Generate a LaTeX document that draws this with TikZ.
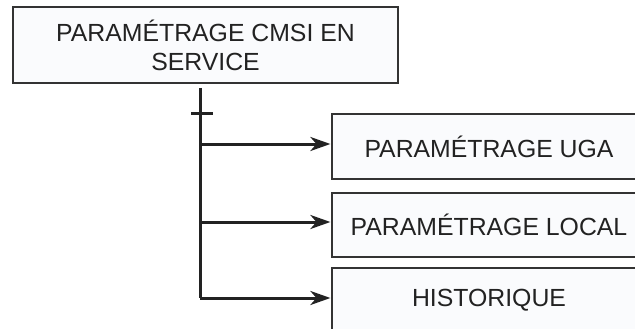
\documentclass[tikz,border=0pt]{standalone}
\usepackage{fontspec}
\setmainfont{Liberation Sans}
\usetikzlibrary{arrows.meta}
\definecolor{boxfill}{HTML}{FAFBFD}
\definecolor{edge}{HTML}{333333}
\definecolor{ink}{HTML}{222222}
\begin{document}
\begin{tikzpicture}[x=1pt,y=-1pt]
\tikzset{
  boxstyle/.style={draw=edge,line width=1.2pt,fill=boxfill,text=ink,
    font=\fontsize{24.8}{29}\selectfont,inner sep=0pt,align=center},
  childbox/.style={boxstyle,minimum width=314pt,minimum height=65pt},
  conn/.style={draw=ink,line width=3pt},
  arr/.style={conn,-{Stealth[length=20pt,width=14pt,inset=6pt]},shorten >=1pt}}
\useasboundingbox (0,0) rectangle (635,329);
\clip (0,0) rectangle (635,329);
\node[boxstyle,minimum width=385pt,minimum height=76pt] (top) at (205.5,45)
  {PARAMÉTRAGE CMSI EN\\SERVICE};
\node[childbox] (uga) at (489,146.5) {PARAMÉTRAGE UGA};
\node[childbox,minimum height=64pt] (loc) at (489,225) {PARAMÉTRAGE LOCAL};
\node[childbox] (his) at (489,300.5) {HISTORIQUE};
\coordinate (t0) at (200,88);
\coordinate (t3) at (200,298);
\coordinate (tl) at (191,113);
\coordinate (tr) at (213,113);
\draw[conn] (t0) -- (t3);
\draw[conn] (tl) -- (tr);
\draw[arr] (t0 |- 0,144) -- (uga.west |- 0,144);
\draw[arr] (t0 |- 0,222) -- (loc.west |- 0,222);
\draw[arr] (t3) -- (his.west |- t3);
\end{tikzpicture}
\end{document}
